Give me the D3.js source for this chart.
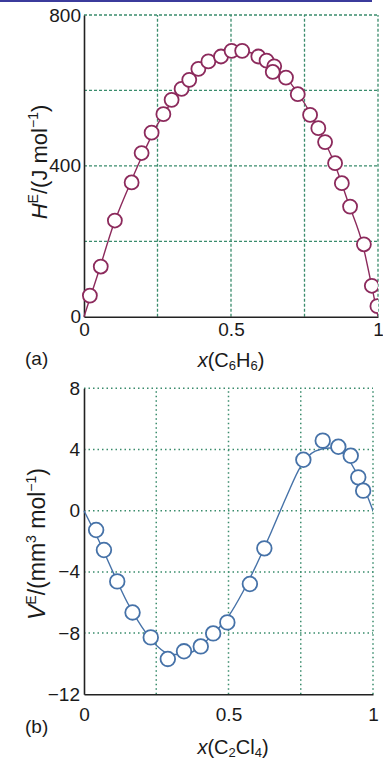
<!DOCTYPE html>
<html><head><meta charset="utf-8">
<script src="https://cdn.jsdelivr.net/npm/d3@7/dist/d3.min.js"></script>
<style>
html,body{margin:0;padding:0;background:#fff;}
svg{display:block;font-family:"Liberation Sans",Arial,sans-serif;}
</style></head>
<body>
<script>
// ---- Data: panel (a) H^E vs x(C6H6)
const hX = [0.020,0.057,0.105,0.162,0.196,0.230,0.270,0.298,0.332,0.358,0.389,0.423,0.466,0.502,0.538,0.593,0.621,0.647,0.642,0.687,0.727,0.769,0.797,0.820,0.854,0.877,0.905,0.952,0.979,0.998];
const hY = [56,133,255,356,434,488,537,575,604,628,657,677,690,705,705,690,679,664,649,634,590,535,500,463,407,354,292,192,82,28];
const hFitX = [0,0.05,0.1,0.15,0.2,0.25,0.3,0.35,0.4,0.45,0.5,0.55,0.6,0.65,0.7,0.75,0.8,0.85,0.9,0.95,0.975,1];
const hFitY = [0,120,243,340,430,510,572,620,656,683,698,702,690,662,622,566,494,410,300,185,95,0];
const hYTicks = [0,400,800];
const hYGrid = [200,400,600,800];

// ---- Data: panel (b) V^E vs x(C2Cl4)
const vX = [0.042,0.069,0.115,0.168,0.231,0.290,0.346,0.404,0.447,0.496,0.574,0.624,0.759,0.826,0.880,0.923,0.949,0.966];
const vY = [-1.26,-2.57,-4.62,-6.65,-8.28,-9.69,-9.19,-8.87,-8.02,-7.30,-4.79,-2.46,3.33,4.58,4.18,3.59,2.18,1.31];
const vFitX = [0,0.05,0.1,0.15,0.2,0.25,0.3,0.35,0.4,0.45,0.5,0.55,0.6,0.65,0.7,0.75,0.8,0.85,0.9,0.95,0.975,1];
const vFitY = [0,-1.9,-4.0,-6.0,-7.6,-8.8,-9.4,-9.4,-8.9,-8.0,-6.9,-5.3,-3.4,-1.3,0.9,2.9,3.9,4.1,3.7,2.2,1.2,0];
const vYTicks = [-12,-8,-4,0,4,8];
const vYGrid = [-8,-4,0,4,8];

const xTicks = [0,0.5,1];
const xGrid = [0.25,0.5,0.75,1];

const W = 383, H = 762;
const svg = d3.select("body").append("svg").attr("width",W).attr("height",H);

// decorative top rule
svg.append("line").attr("x1",0).attr("x2",372).attr("y1",1).attr("y2",1)
  .attr("stroke","#3b3b9c").attr("stroke-width",2);

const gridColor = "#3a8c6c";

function panel(o){
  const x = d3.scaleLinear().domain([0,1]).range(o.xr);
  const y = d3.scaleLinear().domain(o.yd).range(o.yr);
  const g = svg.append("g");
  // grid
  g.selectAll(".vg").data(xGrid).join("line")
    .attr("x1",d=>x(d)).attr("x2",d=>x(d)).attr("y1",o.yr[0]).attr("y2",o.yr[1])
    .attr("stroke",gridColor).attr("stroke-width",o.gw).attr("stroke-dasharray",o.dash);
  g.selectAll(".hg").data(o.yGrid).join("line")
    .attr("x1",o.xr[0]).attr("x2",o.xr[1]).attr("y1",d=>y(d)).attr("y2",d=>y(d))
    .attr("stroke",gridColor).attr("stroke-width",o.gw).attr("stroke-dasharray",o.dash);
  // axes
  const ax = g.append("g").attr("transform",`translate(0,${o.yr[0]})`)
    .call(d3.axisBottom(x).tickValues(xTicks).tickFormat(d3.format("")).tickSize(0).tickPadding(o.xpad));
  const ay = g.append("g").attr("transform",`translate(${o.xr[0]},0)`)
    .call(d3.axisLeft(y).tickValues(o.yTicks).tickSize(0).tickPadding(o.ypad));
  [ax,ay].forEach(a=>{
    a.select(".domain").attr("stroke","#222").attr("stroke-width",1.6);
    a.selectAll("text").attr("font-size",19).attr("fill","#1a1a1a")
      .attr("font-family","'Liberation Sans',Arial,sans-serif");
  });
  // clip
  const cid = "clip"+o.id;
  svg.append("clipPath").attr("id",cid).append("rect")
    .attr("x",0).attr("y",0).attr("width",o.xr[1]).attr("height",H);
  // line
  const line = d3.line().x(d=>x(d[0])).y(d=>y(d[1])).curve(d3.curveMonotoneX);
  g.append("path").datum(o.fx.map((v,i)=>[v,o.fy[i]]))
    .attr("d",line).attr("fill","none").attr("stroke",o.color).attr("stroke-width",1.4)
    .attr("clip-path",`url(#${cid})`);
  g.append("g").attr("clip-path",`url(#${cid})`).selectAll("circle")
    .data(o.px.map((v,i)=>[v,o.py[i]])).join("circle")
    .attr("cx",d=>x(d[0])).attr("cy",d=>y(d[1])).attr("r",o.r)
    .attr("fill","#fff").attr("stroke",o.color).attr("stroke-width",1.8);
  return {x,y,g};
}

panel({id:"a",xr:[84,378],yd:[0,800],yr:[316.7,15],yGrid:hYGrid,yTicks:hYTicks,
  px:hX,py:hY,fx:hFitX,fy:hFitY,color:"#8c2a5c",r:7,gw:1.3,dash:"3,2",xpad:6,ypad:3});
panel({id:"b",xr:[84,373],yd:[-12,8],yr:[694.3,388.3],yGrid:vYGrid,yTicks:vYTicks,
  px:vX,py:vY,fx:vFitX,fy:vFitY,color:"#4672a8",r:7.3,gw:1.5,dash:"1.5,3",xpad:13,ypad:4});

const txt = (x,y,fs)=>svg.append("text").attr("x",x).attr("y",y).attr("font-size",fs||19).attr("fill","#1a1a1a");

// panel labels
txt(25,365).text("(a)");
txt(25,733).text("(b)");

// x titles
function xTitle(cx,by,sub1,mid,sub2){
  const t = txt(cx,by,20).attr("text-anchor","middle");
  t.append("tspan").attr("font-style","italic").text("x");
  t.append("tspan").text("(C");
  t.append("tspan").attr("font-size",13).attr("dy",3).text(sub1);
  t.append("tspan").attr("dy",-3).text(mid);
  t.append("tspan").attr("font-size",13).attr("dy",3).text(sub2);
  t.append("tspan").attr("dy",-3).text(")");
}
xTitle(231,367,"6","H","6");
xTitle(233,754,"2","Cl","4");

// y titles
function yTitle(bx,cy,fs,sym,unit,exp){
  const t = svg.append("text").attr("transform",`translate(${bx},${cy}) rotate(-90)`)
    .attr("text-anchor","middle").attr("font-size",fs).attr("fill","#1a1a1a");
  t.append("tspan").attr("font-style","italic").text(sym);
  t.append("tspan").attr("font-size",14).attr("dy",-9).text("E");
  t.append("tspan").attr("dy",9).text("/(" + unit);
  if(exp){ t.append("tspan").attr("font-size",14).attr("dy",-9).text(exp); t.append("tspan").attr("dy",9).text(" mol"); }
  else t.append("tspan").text(" mol");
  t.append("tspan").attr("font-size",14).attr("dy",-9).text("−1");
  t.append("tspan").attr("dy",9).text(")");
}
yTitle(47,162,22,"H","J",null);
yTitle(45,544,23,"V","mm","3");
</script>
</body></html>
